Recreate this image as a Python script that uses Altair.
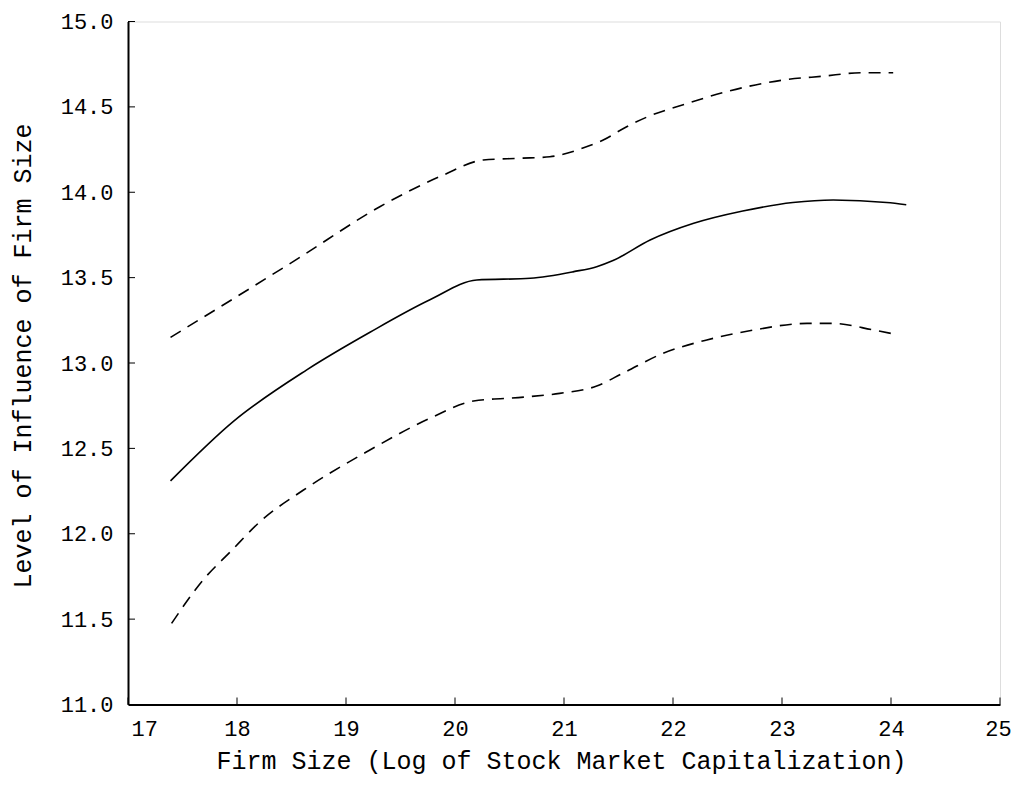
import altair as alt
import pandas as pd

# Solid line: estimated effect
fit_x = [17.39, 17.97, 18.64, 19.22, 19.77, 20.20, 20.69, 21.09, 21.30, 21.45, 21.79, 22.19, 22.64, 23.10, 23.47, 23.96, 24.14]
fit_y = [12.31, 12.66, 12.96, 13.18, 13.37, 13.486, 13.496, 13.535, 13.564, 13.60, 13.72, 13.818, 13.89, 13.94, 13.955, 13.94, 13.927]

# Upper dashed band
up_x = [17.39, 18.58, 19.31, 19.89, 20.26, 20.60, 20.87, 21.18, 21.36, 21.575, 21.76, 22.13, 22.49, 23.01, 23.38, 23.73, 24.02]
up_y = [13.15, 13.62, 13.915, 14.10, 14.189, 14.199, 14.208, 14.26, 14.306, 14.384, 14.44, 14.52, 14.589, 14.657, 14.68, 14.70, 14.70]

# Lower dashed band
lo_x = [17.40, 17.69, 17.94, 18.21, 18.61, 19.19, 19.77, 20.17, 20.63, 20.96, 21.30, 21.54, 21.91, 22.31, 22.74, 23.23, 23.47, 23.84, 24.07]
lo_y = [11.475, 11.73, 11.895, 12.07, 12.256, 12.48, 12.676, 12.777, 12.80, 12.822, 12.865, 12.94, 13.057, 13.135, 13.193, 13.232, 13.232, 13.193, 13.164]

x_ticks = [17, 18, 19, 20, 21, 22, 23, 24, 25]
y_ticks = [11.0, 11.5, 12.0, 12.5, 13.0, 13.5, 14.0, 14.5, 15.0]

W, H = 872, 683
FONT = "Liberation Mono"

fit = pd.DataFrame({"x": fit_x, "y": fit_y})
up = pd.DataFrame({"x": up_x, "y": up_y})
lo = pd.DataFrame({"x": lo_x, "y": lo_y})

xs = alt.Scale(domain=[17, 25], nice=False, zero=False)
ys = alt.Scale(domain=[11, 15], nice=False, zero=False)

xenc = alt.X("x:Q", scale=xs,
             axis=alt.Axis(title="Firm Size (Log of Stock Market Capitalization)",
                           values=x_ticks, format="d", ticks=False, grid=False,
                           domainColor="black", domainWidth=2,
                           labelFont=FONT, labelFontSize=22, labelColor="black",
                           labelPadding=14, labelFlush=False,
                           labelAlign=alt.expr("datum.value == 17 ? 'left' : 'center'"),
                           labelOffset=alt.expr("datum.value == 17 ? 3 : (datum.value == 25 ? -2 : 0)"),
                           titleFont=FONT, titleFontSize=25, titleFontWeight="normal",
                           titleColor="black", titleX=433, titleY=56,
                           titleBaseline="middle", titleAlign="center"))
yenc = alt.Y("y:Q", scale=ys,
             axis=alt.Axis(title="Level of Influence of Firm Size",
                           values=y_ticks, format=".1f", ticks=False, grid=False,
                           domainColor="black", domainWidth=2,
                           labelFont=FONT, labelFontSize=22, labelColor="black",
                           labelPadding=15, labelFlush=False,
                           titleFont=FONT, titleFontSize=25, titleFontWeight="normal",
                           titleColor="black", titleX=-106, titleY=334, titleAngle=270,
                           titleBaseline="middle", titleAlign="center"))

solid = alt.Chart(fit).mark_line(color="black", strokeWidth=1.6, interpolate="monotone").encode(x=xenc, y=yenc)
upper = alt.Chart(up).mark_line(color="black", strokeWidth=1.6, strokeDash=[12, 8], interpolate="monotone").encode(x="x:Q", y="y:Q")
lower = alt.Chart(lo).mark_line(color="black", strokeWidth=1.6, strokeDash=[12, 8], interpolate="monotone").encode(x="x:Q", y="y:Q")

xt = alt.Chart(pd.DataFrame({"t": x_ticks})).mark_rule(color="black", strokeWidth=1).encode(
    x=alt.X("t:Q", scale=xs), y=alt.value(H), y2=alt.value(H - 7))
yt = alt.Chart(pd.DataFrame({"t": y_ticks})).mark_rule(color="black", strokeWidth=1).encode(
    y=alt.Y("t:Q", scale=ys), x=alt.value(0), x2=alt.value(7))

chart = alt.layer(solid, upper, lower, xt, yt).properties(
    width=W, height=H,
    autosize=alt.AutoSizeParams(type="none"),
    padding={"left": 120, "top": 13.5, "right": 11, "bottom": 75},
).configure_view(stroke=None).configure(background="white")

chart.save("out.html", embed_options={"renderer": "svg", "actions": False})
